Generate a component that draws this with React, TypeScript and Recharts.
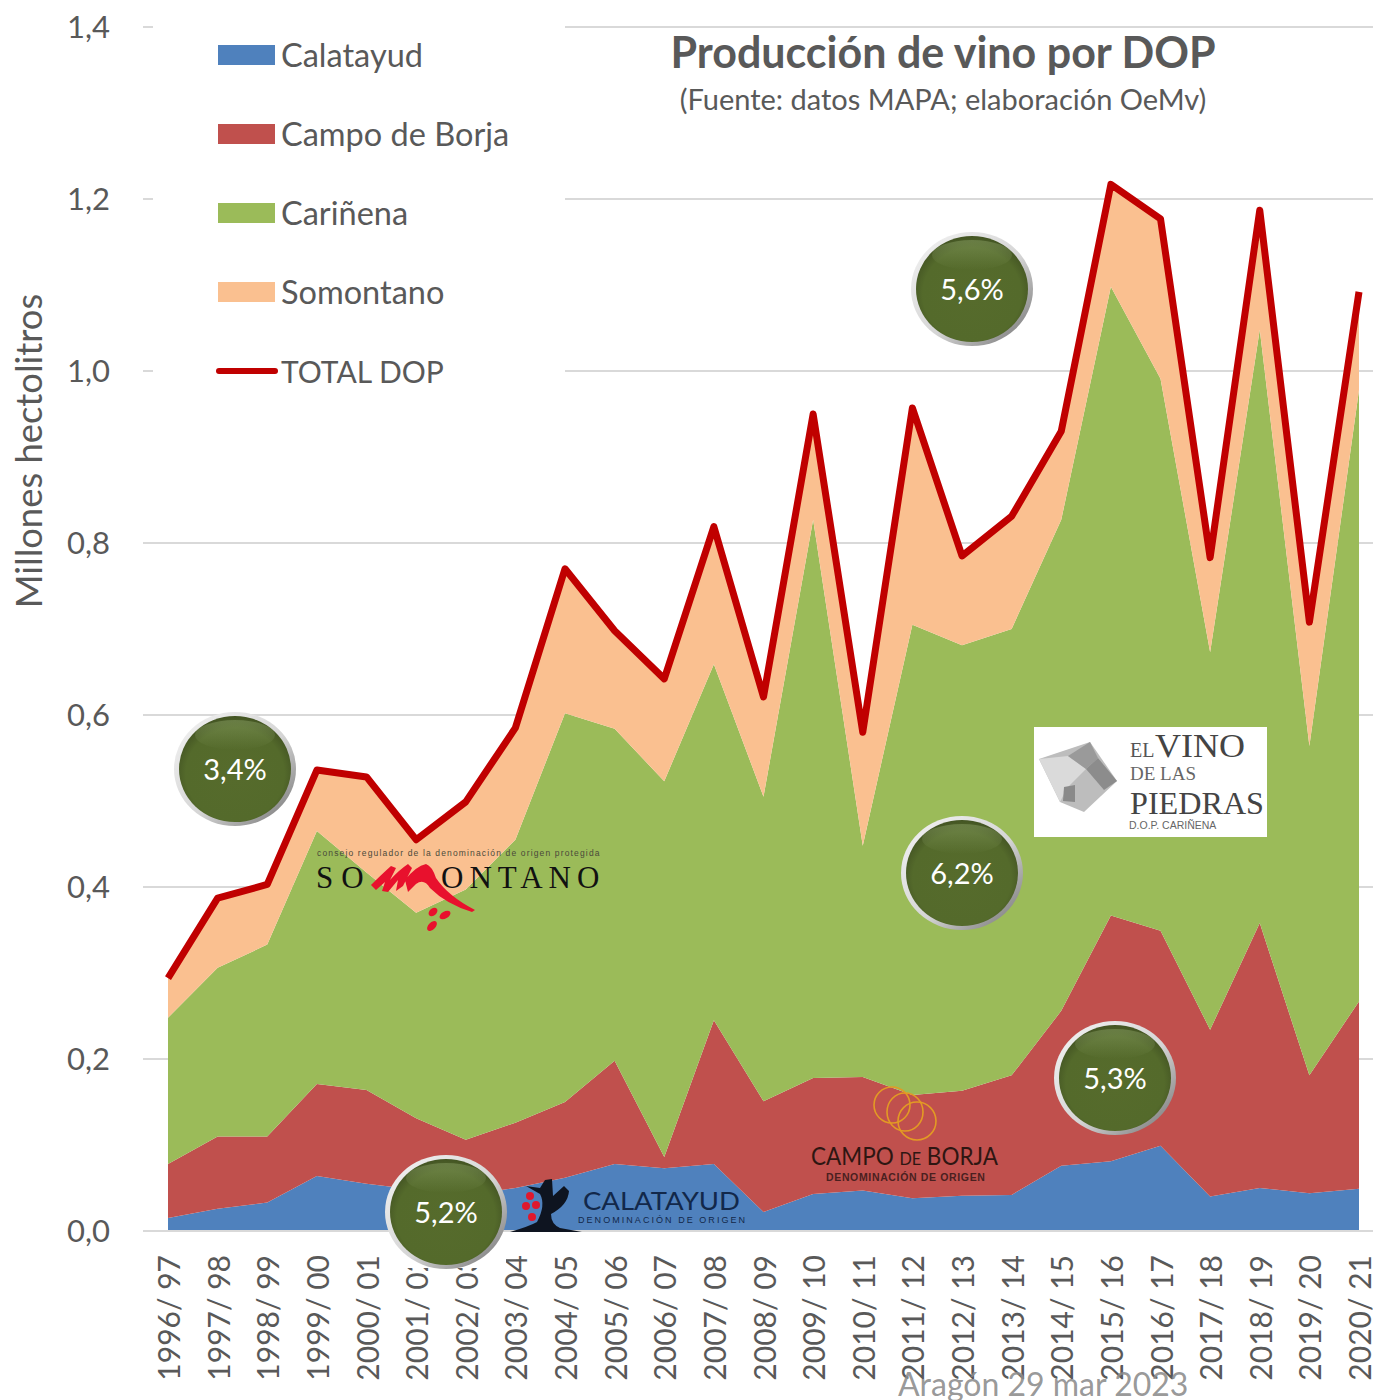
import React from "react";
import { ComposedChart, Area, Line, XAxis, YAxis, CartesianGrid, Legend } from "recharts";

const seasons = ["1996/ 97","1997/ 98","1998/ 99","1999/ 00","2000/ 01","2001/ 02","2002/ 03","2003/ 04","2004/ 05","2005/ 06","2006/ 07","2007/ 08","2008/ 09","2009/ 10","2010/ 11","2011/ 12","2012/ 13","2013/ 14","2014/ 15","2015/ 16","2016/ 17","2017/ 18","2018/ 19","2019/ 20","2020/ 21"];
const calatayud = [.015,.026,.033,.064,.055,.048,.042,.05,.062,.078,.073,.078,.022,.043,.047,.038,.041,.042,.076,.081,.099,.040,.05,.044,.049];
const campoDeBorja = [.063,.084,.077,.107,.109,.083,.064,.076,.088,.120,.013,.167,.129,.135,.132,.120,.122,.139,.180,.286,.250,.194,.308,.137,.218];
const carinena = [.170,.196,.223,.294,.253,.239,.291,.329,.452,.386,.437,.414,.354,.649,.269,.547,.518,.519,.571,.731,.642,.439,.690,.383,.711];
const somontano = [.046,.081,.070,.071,.111,.085,.102,.130,.168,.114,.119,.160,.116,.123,.132,.252,.104,.131,.103,.119,.186,.110,.139,.144,.114];
const totalDop = [.294,.387,.403,.536,.528,.455,.499,.585,.770,.698,.642,.819,.621,.950,.580,.957,.785,.831,.930,1.217,1.177,.783,1.187,.708,1.092];
const yTicks = [0,0.2,0.4,0.6,0.8,1.0,1.2,1.4];
const bubbles = [
  { label: "3,4%", cx: 235, cy: 769 },
  { label: "5,6%", cx: 972, cy: 289 },
  { label: "6,2%", cx: 962, cy: 873 },
  { label: "5,3%", cx: 1115, cy: 1078 },
  { label: "5,2%", cx: 446, cy: 1212 },
];

const data = seasons.map((season, i) => ({
  season,
  Calatayud: calatayud[i],
  "Campo de Borja": campoDeBorja[i],
  "Cariñena": carinena[i],
  Somontano: somontano[i],
  "TOTAL DOP": totalDop[i],
}));

const FONT = "Lato, Carlito, 'Open Sans', sans-serif";
const GREY = "#595959";

const XTick = (props: any) => {
  const { x, payload } = props;
  return (
    <text
      transform={`translate(${x},1255) rotate(-90)`}
      textAnchor="end"
      dominantBaseline="central"
      fontFamily={FONT}
      fontSize={30}
      fill={GREY}
    >
      {payload.value}
    </text>
  );
};

const renderLegend = (props: any) => {
  const items = props.payload || [];
  return (
    <div style={{ position: "relative", width: 412, height: 390 }}>
      {items.map((it: any, i: number) => {
        const top = 45 - 10 + i * 79;
        const isLine = it.value === "TOTAL DOP";
        return (
          <div key={it.value}>
            {isLine ? (
              <div style={{ position: "absolute", left: 63, top: top + 7, width: 62, height: 6, borderRadius: 3, background: it.color }} />
            ) : (
              <div style={{ position: "absolute", left: 65, top, width: 57, height: 20, background: it.color }} />
            )}
            <div style={{ position: "absolute", left: 128, top: top - 10, height: 40, lineHeight: "40px", fontFamily: FONT, fontSize: isLine ? 30 : 32.5, color: GREY, whiteSpace: "nowrap" }}>
              {it.value}
            </div>
          </div>
        );
      })}
    </div>
  );
};

const Overlay = () => (
  <svg width={1373} height={1400} style={{ position: "absolute", left: 0, top: 0, pointerEvents: "none" }}>
    <defs>
      <linearGradient id="rim2" x1="0" y1="0" x2="1" y2="1">
        <stop offset="0%" stopColor="#F4F4F4" />
        <stop offset="55%" stopColor="#D5D5D5" />
        <stop offset="100%" stopColor="#6E6E6E" />
      </linearGradient>
      <radialGradient id="ball" cx="50%" cy="55%" r="55%">
        <stop offset="0%" stopColor="#566B2C" />
        <stop offset="80%" stopColor="#546A2B" />
        <stop offset="100%" stopColor="#435423" />
      </radialGradient>
      <linearGradient id="gloss" x1="0" y1="0" x2="0" y2="1">
        <stop offset="0%" stopColor="#8FA56A" stopOpacity="0.45" />
        <stop offset="100%" stopColor="#8FA56A" stopOpacity="0" />
      </linearGradient>
    </defs>

    <text x={943} y={68} textAnchor="middle" fontFamily={FONT} fontWeight={700} fontSize={43} fill={GREY}>Producción de vino por DOP</text>
    <text x={943} y={110} textAnchor="middle" fontFamily={FONT} fontSize={29} fill={GREY}>(Fuente: datos MAPA; elaboración OeMv)</text>
    <text transform="translate(42,451) rotate(-90)" textAnchor="middle" fontFamily={FONT} fontSize={36.4} fill={GREY}>Millones hectolitros</text>

    {/* Somontano logo */}
    <text x={317} y={856} fontFamily="'Liberation Sans', sans-serif" fontSize={8.5} letterSpacing={1.15} fill="#4a4a3a">consejo regulador de la denominación de origen protegida</text>
    <text x={316} y={888} fontFamily="'Liberation Serif', serif" fontSize={31} letterSpacing={8} fill="#111">SO</text>
    <text x={441} y={888} fontFamily="'Liberation Serif', serif" fontSize={31} letterSpacing={6} fill="#111">ONTANO</text>
    <path d="M371 885 Q382 874 391 866 L396 868 L390 880 Q399 870 408 864 L412 868 L403 886 L396 891 L398 880 L388 892 L382 891 L385 882 L376 890 Z M405 880 Q416 866 426 864 Q432 866 436 878 Q448 896 475 910 L472 912 Q446 904 430 888 Q424 878 416 884 L408 892 Z" fill="#E8112D" />
    <ellipse cx={433} cy={912} rx={5} ry={3.5} transform="rotate(-40 433 912)" fill="#E8112D" />
    <ellipse cx={445} cy={915} rx={6} ry={3.5} transform="rotate(-30 445 915)" fill="#E8112D" />
    <ellipse cx={432} cy={926} rx={6} ry={3.5} transform="rotate(-45 432 926)" fill="#E8112D" />

    {/* Vino de las piedras logo */}
    <rect x={1034} y={727} width={233} height={110} fill="#FFFFFF" />
    <polygon points="1039,759 1090,742 1117,781 1084,812 1060,802" fill="#BDBDBD" />
    <polygon points="1039,759 1068,756 1086,769 1067,788 1060,802" fill="#DADADA" />
    <polygon points="1068,756 1090,742 1098,758 1086,769" fill="#9A9A9A" />
    <polygon points="1086,769 1098,758 1117,781 1104,790" fill="#8C8C8C" />
    <polygon points="1064,787 1075,785 1075,802 1063,801" fill="#8A8A8A" />
    <text x={1130} y={757} fontFamily="'Liberation Serif', serif" fontSize={20} fill="#555">EL</text>
    <text x={1155} y={757} fontFamily="'Liberation Serif', serif" fontSize={34} textLength={90} lengthAdjust="spacingAndGlyphs" fill="#444">VINO</text>
    <text x={1130} y={780} fontFamily="'Liberation Serif', serif" fontSize={19} fill="#666">DE LAS</text>
    <text x={1130} y={814} fontFamily="'Liberation Serif', serif" fontSize={32} textLength={134} lengthAdjust="spacingAndGlyphs" fill="#444">PIEDRAS</text>
    <text x={1129} y={829} fontFamily="'Liberation Sans', sans-serif" fontSize={10.5} fill="#666">D.O.P. CARIÑENA</text>

    {/* Campo de Borja logo */}
    <g fill="none" stroke="#E39A24" strokeWidth={1.6}>
      <ellipse cx={892} cy={1105} rx={18} ry={18} />
      <ellipse cx={905} cy={1112} rx={18} ry={19} />
      <ellipse cx={917} cy={1121} rx={19} ry={19} />
    </g>
    <text x={811} y={1165} fontFamily={FONT} fontSize={25} textLength={187} lengthAdjust="spacingAndGlyphs" fill="#2E1612">CAMPO <tspan fontSize={18}>DE</tspan> BORJA</text>
    <text x={826} y={1181} fontFamily="'Liberation Sans', sans-serif" fontWeight={700} fontSize={10.5} letterSpacing={0.65} fill="#4A2020">DENOMINACIÓN DE ORIGEN</text>

    {/* Calatayud logo */}
    <path d="M510 1232 Q530 1226 537 1222 Q546 1205 540 1194 L526 1186 L540 1188 L545 1180 L552 1179 L553 1196 L564 1186 L569 1191 Q568 1205 551 1214 Q551 1224 560 1228 L582 1232 Z" fill="#0E1420" />
    <g fill="#E0182D">
      <circle cx={530} cy={1196} r={4} />
      <circle cx={526} cy={1206} r={4} />
      <circle cx={536} cy={1205} r={4} />
      <circle cx={532} cy={1217} r={4} />
    </g>
    <text x={583} y={1210} fontFamily={FONT} fontSize={25} textLength={157} lengthAdjust="spacingAndGlyphs" fill="#12284A">CALATAYUD</text>
    <text x={578} y={1223} fontFamily="'Liberation Sans', sans-serif" fontSize={9} letterSpacing={2.05} fill="#12284A">DENOMINACIÓN DE ORIGEN</text>

    {/* Footer */}
    <text x={898} y={1396} fontFamily={FONT} fontSize={32} fill="#8C8C8C" fillOpacity={0.9}>Aragón 29 mar 2023</text>

    {/* Bubbles */}
    <rect x={388} y={1232} width={118} height={36} fill="#FFFFFF" />
    {bubbles.map((b) => (
      <g key={b.label}>
        <ellipse cx={b.cx} cy={b.cy} rx={61} ry={57} fill="url(#rim2)" />
        <ellipse cx={b.cx} cy={b.cy} rx={56} ry={53} fill="url(#ball)" />
        <ellipse cx={b.cx} cy={b.cy - 34} rx={40} ry={15} fill="url(#gloss)" />
        <text x={b.cx} y={b.cy + 11} textAnchor="middle" fontFamily={FONT} fontSize={29} fill="#FFFFFF">{b.label}</text>
      </g>
    ))}
  </svg>
);

export default function App() {
  return (
    <div style={{ position: "absolute", left: 0, top: 0, width: 1373, height: 1400, overflow: "hidden", background: "#fff" }}>
      <ComposedChart
        width={1400}
        height={1400}
        data={data}
        margin={{ top: 27, right: 16, bottom: 0, left: 63 }}
      >
        <CartesianGrid vertical={false} stroke="#D9D9D9" strokeWidth={2} />
        <XAxis
          dataKey="season"
          height={169}
          interval={0}
          padding={{ left: 25, right: 25 }}
          tick={<XTick />}
          tickLine={false}
          axisLine={{ stroke: "#D9D9D9", strokeWidth: 2 }}
        />
        <YAxis
          width={80}
          domain={[0, 1.4]}
          ticks={yTicks}
          tickFormatter={(v: number) => v.toFixed(1).replace(".", ",")}
          tick={{ fontFamily: FONT, fontSize: 31, fill: GREY }}
          tickLine={false}
          axisLine={false}
          tickMargin={27}
        />
        <Area dataKey="Calatayud" stackId="a" fill="#4F81BD" fillOpacity={1} stroke="none" isAnimationActive={false} />
        <Area dataKey="Campo de Borja" stackId="a" fill="#C0504D" fillOpacity={1} stroke="none" isAnimationActive={false} />
        <Area dataKey="Cariñena" stackId="a" fill="#9BBB59" fillOpacity={1} stroke="none" isAnimationActive={false} />
        <Area dataKey="Somontano" stackId="a" fill="#FAC090" fillOpacity={1} stroke="none" isAnimationActive={false} />
        <Line dataKey="TOTAL DOP" stroke="#C00000" strokeWidth={7} dot={false} strokeLinejoin="round" isAnimationActive={false} />
        <Legend
          layout="vertical"
          verticalAlign="middle"
          align="center"
          content={renderLegend}
          wrapperStyle={{ left: 153, top: 10, width: 412, height: 390, background: "#FFFFFF" }}
        />
      </ComposedChart>
      <Overlay />
    </div>
  );
}
